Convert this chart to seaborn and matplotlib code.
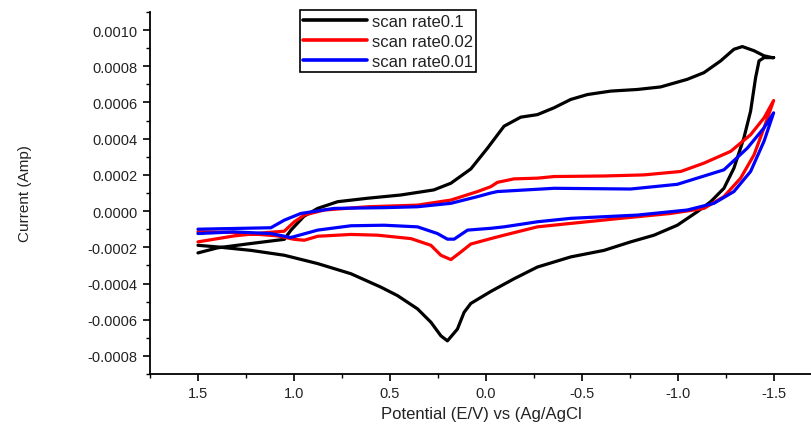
import numpy as np
import pandas as pd
import matplotlib
matplotlib.use("Agg")
import matplotlib.pyplot as plt
import seaborn as sns
from matplotlib.ticker import MultipleLocator, FormatStrFormatter

labels = ["scan rate0.1", "scan rate0.02", "scan rate0.01"]
colors = ["#000000", "#ff0000", "#0000ff"]

# scan rate 0.1 : potential (V) and current (A), in scan order
v_01 = [1.5, 1.398, 1.224, 1.05, 1.016, 0.948, 0.876, 0.772, 0.616, 0.443, 0.271, 0.182,
        0.078, -0.009, -0.095, -0.182, -0.269, -0.356, -0.443, -0.530, -0.651, -0.790,
        -0.911, -1.050, -1.137, -1.224, -1.293, -1.337, -1.398, -1.450, -1.493, -1.50,
        -1.45, -1.424, -1.406, -1.38, -1.345, -1.293, -1.241, -1.172, -1.103, -0.998,
        -0.877, -0.755, -0.616, -0.443, -0.269, -0.147, -0.026, 0.078, 0.113, 0.148,
        0.200, 0.234, 0.286, 0.356, 0.46, 0.547, 0.703, 0.876, 1.05, 1.224, 1.398, 1.5]
i_01 = [-0.000231, -0.000203, -0.000179, -0.000156, -0.000106, -0.000029, 0.000015,
        0.000052, 0.000071, 0.000089, 0.000117, 0.000154, 0.000233, 0.000348, 0.000469,
        0.000519, 0.000533, 0.000571, 0.000617, 0.000644, 0.000663, 0.000672, 0.000686,
        0.000728, 0.000765, 0.000830, 0.000894, 0.000909, 0.000886, 0.000858, 0.000848,
        0.000848, 0.000848, 0.000830, 0.000737, 0.000552, 0.000404, 0.000237, 0.000126,
        0.000052, -0.000003, -0.000078, -0.000133, -0.000170, -0.000217, -0.000253,
        -0.000309, -0.000374, -0.000444, -0.000510, -0.000559, -0.000652, -0.000717,
        -0.000689, -0.000614, -0.000540, -0.000467, -0.000420, -0.000346, -0.000290,
        -0.000244, -0.000217, -0.000198, -0.000189]

# scan rate 0.02
v_002 = [1.5, 1.311, 1.137, 1.05, 0.998, 0.946, 0.842, 0.616, 0.356, 0.182, 0.043, -0.026,
         -0.061, -0.147, -0.269, -0.356, -0.616, -0.824, -1.016, -1.137, -1.276, -1.38,
         -1.45, -1.50, -1.45, -1.398, -1.328, -1.241, -1.137, -0.964, -0.703, -0.443,
         -0.269, -0.095, -0.026, 0.078, 0.13, 0.182, 0.234, 0.286, 0.39, 0.564, 0.703,
         0.876, 0.946, 0.998, 1.085, 1.311, 1.5]
i_002 = [-0.000170, -0.000137, -0.000118, -0.000111, -0.000059, -0.000022, 0.000006,
         0.000024, 0.000033, 0.000061, 0.000108, 0.000135, 0.000159, 0.000178, 0.000182,
         0.000191, 0.000194, 0.000200, 0.000219, 0.000265, 0.000330, 0.000422, 0.000515,
         0.000611, 0.000460, 0.000311, 0.000182, 0.000080, 0.000015, -0.000013,
         -0.000040, -0.000068, -0.000087, -0.000133, -0.000152, -0.000182, -0.000226,
         -0.000268, -0.000244, -0.000189, -0.000152, -0.000133, -0.000129, -0.000139,
         -0.000161, -0.000156, -0.000137, -0.000118, -0.000114]

# scan rate 0.01
v_001 = [1.5, 1.12, 1.05, 0.964, 0.79, 0.53, 0.356, 0.182, 0.043, -0.026, -0.061, -0.356,
         -0.755, -0.998, -1.241, -1.363, -1.45, -1.50, -1.45, -1.38, -1.293, -1.189,
         -1.05, -0.79, -0.443, -0.269, -0.095, -0.026, 0.095, 0.165, 0.2, 0.252, 0.356,
         0.53, 0.703, 0.876, 1.016, 1.12, 1.311, 1.5]
i_001 = [-0.000100, -0.000092, -0.000050, -0.000013, 0.000015, 0.000019, 0.000024,
         0.000043, 0.000080, 0.000100, 0.000108, 0.000126, 0.000122, 0.000148, 0.000228,
         0.000348, 0.000460, 0.000543, 0.000386, 0.000219, 0.000108, 0.000043, 0.000006,
         -0.000022, -0.000040, -0.000059, -0.000087, -0.000095, -0.000105, -0.000155,
         -0.000155, -0.000124, -0.000087, -0.000078, -0.000081, -0.000105, -0.000146,
         -0.000124, -0.000115, -0.000124]

frames = []
for lab, v, i in zip(labels, [v_01, v_002, v_001], [i_01, i_002, i_001]):
    frames.append(pd.DataFrame({"Potential": v, "Current": i, "series": lab,
                                "order": np.arange(len(v))}))
df = pd.concat(frames, ignore_index=True)

sns.set_style("ticks")
plt.rcParams['font.family'] = ['Liberation Sans', 'DejaVu Sans']

fig = plt.figure(figsize=(8.12, 4.27), dpi=100)
ax = fig.add_axes([150 / 812, 1 - 375 / 427, 1 - 150 / 812, (375 - 13) / 427])

sns.lineplot(data=df, x="Potential", y="Current", hue="series", hue_order=labels,
             palette=colors, sort=False, estimator=None, units="series",
             linewidth=2.3, ax=ax, solid_joinstyle="round", solid_capstyle="round")

ax.set_xlim(1.75, -1.70)
ax.set_ylim(-0.0009, 0.0011)
ax.xaxis.set_major_locator(MultipleLocator(0.5))
ax.xaxis.set_minor_locator(MultipleLocator(0.25))
ax.yaxis.set_major_locator(MultipleLocator(0.0002))
ax.yaxis.set_minor_locator(MultipleLocator(0.0001))
ax.xaxis.set_major_formatter(FormatStrFormatter("%.1f"))
ax.yaxis.set_major_formatter(FormatStrFormatter("%.4f"))

for s in ["top", "right"]:
    ax.spines[s].set_visible(False)
for s in ["left", "bottom"]:
    ax.spines[s].set_linewidth(1.3)
    ax.spines[s].set_color("black")

ax.tick_params(axis="both", which="major", direction="out", length=5, width=1.2,
               labelsize=10.5, colors="black", pad=4)
ax.tick_params(axis="both", which="minor", direction="out", length=3, width=1.0,
               colors="black")
for t in ax.get_xticklabels() + ax.get_yticklabels():
    t.set_color("#222222")

ax.set_xlabel("Potential (E/V) vs (Ag/AgCl", fontsize=12, labelpad=4, color="#222222")
ax.set_ylabel("Current (Amp)", fontsize=11, labelpad=40, color="#222222")

leg = ax.legend(loc="upper left", bbox_to_anchor=(0.2266, 1.005), frameon=True,
                fancybox=False, shadow=False, fontsize=12, handlelength=3.8,
                handletextpad=0.3, labelspacing=0.3, borderpad=0.2,
                borderaxespad=0.0)
leg.get_frame().set_edgecolor("black")
leg.get_frame().set_linewidth(1.2)
leg.get_frame().set_alpha(1)
for line in leg.get_lines():
    line.set_linewidth(2.6)
for t in leg.get_texts():
    t.set_color("#222222")

fig.savefig("out.png", dpi=100)
